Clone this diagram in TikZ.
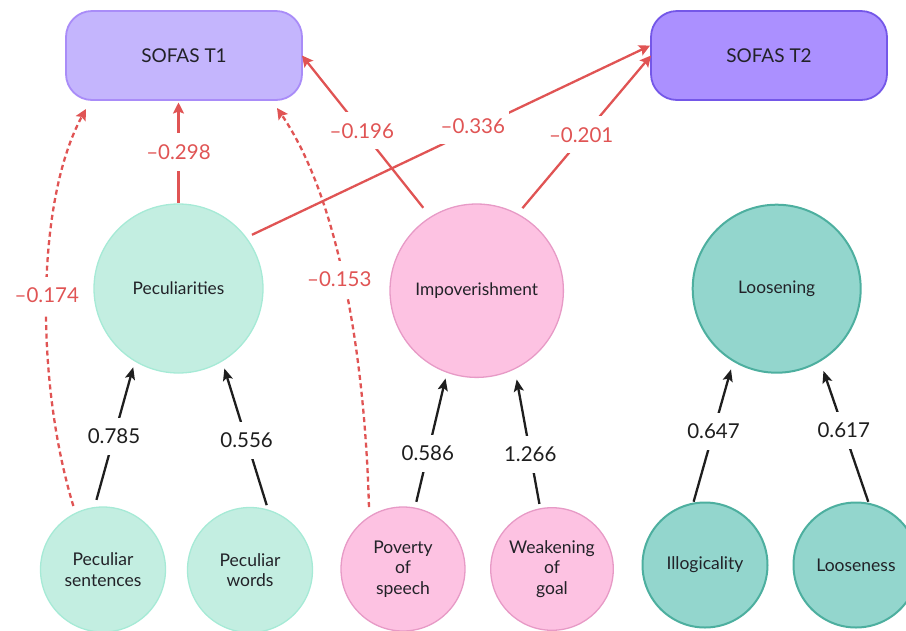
\documentclass[tikz,border=0pt]{standalone}
\usepackage{fontspec}
\setmainfont{Lato}
\usetikzlibrary{arrows.meta}
\definecolor{t1fill}{RGB}{196,181,253}
\definecolor{t1line}{RGB}{169,140,248}
\definecolor{t2fill}{RGB}{171,144,255}
\definecolor{t2line}{RGB}{116,87,232}
\definecolor{mintfill}{RGB}{195,238,225}
\definecolor{mintline}{RGB}{166,234,214}
\definecolor{pinkfill}{RGB}{253,194,226}
\definecolor{pinkline}{RGB}{231,154,198}
\definecolor{tealfill}{RGB}{147,214,205}
\definecolor{tealline}{RGB}{77,175,159}
\definecolor{effred}{RGB}{224,84,84}
\definecolor{ink}{RGB}{30,30,30}
\definecolor{txt}{RGB}{34,34,40}
\tikzset{
  boxnode/.style={draw, rounded corners=26pt, minimum width=236pt, minimum height=89pt,
    line width=1.8pt, inner sep=0pt, outer sep=0pt, font=\fontsize{19}{23}\selectfont, text=txt},
  latent/.style={circle, draw, inner sep=0pt, outer sep=0pt, align=center,
    font=\fontsize{17.3}{21}\selectfont, text=txt},
  item/.style={circle, draw, minimum size=125pt, inner sep=0pt, outer sep=0pt, align=center,
    font=\fontsize{17.5}{20.5}\selectfont, text=txt},
  mint/.style={fill=mintfill, draw=mintline, line width=1.3pt},
  pinkc/.style={fill=pinkfill, draw=pinkline, line width=1.3pt},
  tealc/.style={fill=tealfill, draw=tealline, line width=2pt},
  load/.style={draw=ink, line width=2.3pt, -{Stealth[length=12pt,width=10pt,inset=2.5pt]}},
  effect/.style={draw=effred, line width=2.3pt, -{Stealth[length=11pt,width=11pt,inset=2pt]}},
  effectdash/.style={effect, dash pattern=on 5pt off 3.5pt},
  numlbl/.style={fill=white, inner xsep=4pt, inner ysep=11pt, font=\fontsize{20.5}{24}\selectfont, text=ink},
  efflbl/.style={numlbl, text=effred},
}
\begin{document}
\begin{tikzpicture}[x=1pt,y=-1pt]
\useasboundingbox (0,0) rectangle (906,630);
\clip (0,0) rectangle (906,630);

% outcome boxes
\node[boxnode, fill=t1fill, draw=t1line] (T1) at (184,55.5) {SOFAS T1};
\node[boxnode, fill=t2fill, draw=t2line] (T2) at (769,55.5) {SOFAS T2};

% latent factors
\node[latent, mint, minimum size=169pt] (pec) at (178.5,288.5) {Peculiarities};
\node[latent, pinkc, minimum size=173.4pt] (imp) at (476.7,290.7) {Impoverishment};
\node[latent, tealc, minimum size=168pt] (loos) at (776.7,288.7) {Loosening};

% indicators
\node[item, mint] (pecs) at (103,569.5) {Peculiar\\sentences};
\node[item, mint] (pecw) at (250,570) {Peculiar\\words};
\node[item, pinkc, minimum size=124pt] (pov) at (403,569) {Poverty\\of\\speech};
\node[item, pinkc, minimum size=122.6pt] (weak) at (552,569) {Weakening\\of\\goal};
\node[item, tealc] (ill) at (705,565) {Illogicality};
\node[item, tealc] (lsn) at (856,565) {Looseness};

% loadings
\draw[load, shorten <=8pt, shorten >=6.6pt] (pecs.98.8) -- node[numlbl, pos=0.484] (l1) {0.785} (pec.239.1);
\draw[load, shorten <=5.3pt, shorten >=7.9pt] (pecw.73.5) -- node[numlbl, pos=0.469] (l2) {0.556} (pec.301.5);
\draw[load, shorten <=6.5pt, shorten >=6.5pt] (pov.79.1) -- node[numlbl, pos=0.403] (l3) {0.586} (imp.250.1);
\draw[load, shorten <=5pt, shorten >=11pt] (weak.101.1) -- node[numlbl, pos=0.391] (l4) {1.266} (imp.296.3);
\draw[load, shorten <=2pt, shorten >=9pt] (ill.101.3) -- node[numlbl, pos=0.506] (l5) {0.647} (loos.239.9);
\draw[load, shorten <=2.2pt, shorten >=10.8pt] (lsn.78.1) -- node[numlbl, pos=0.514] (l6) {0.617} (loos.301.8);

% effects on SOFAS
\draw[effect, shorten <=1.5pt, shorten >=2.5pt] (pec.north) -- node[efflbl, pos=0.5] (e1) {\textendash0.298} (pec.north |- T1.south);
\draw[effect, shorten <=12pt] (imp.122.6) -- node[efflbl, pos=0.535] (e2) {\textendash0.196} (T1.east);
\draw[effect, shorten <=6.6pt, shorten >=1pt] (pec.37.3) -- node[efflbl, pos=0.56, yshift=4pt] (e3) {\textendash0.336} (T2.175.9);
\draw[effect, shorten <=7.8pt] (imp.62.7) -- node[efflbl, pos=0.5, xshift=-3pt] (e4) {\textendash0.201} (T2.west);

% dashed direct effects
\draw[effectdash, shorten <=7.7pt] (pecs.116.5) .. controls (35,380) and (36,200) .. ([xshift=20pt,yshift=-9pt]T1.south west)
  node[efflbl, pos=0.5] (e5) {\textendash0.174};
\draw[effectdash, shorten <=10pt] (pov.123) .. controls (365,360) and (340,200) .. ([xshift=-25pt,yshift=-8pt]T1.south east)
  node[efflbl, pos=0.52, xshift=-4pt] (e6) {\textendash0.153};
\end{tikzpicture}
\end{document}
